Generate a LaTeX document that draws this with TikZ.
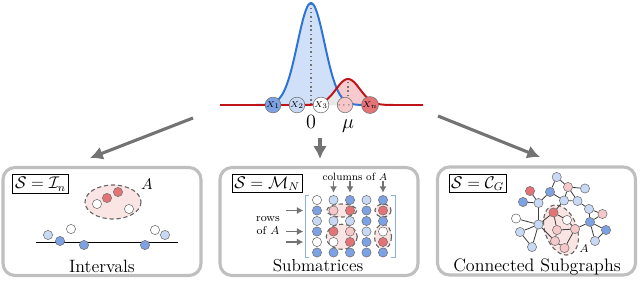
\documentclass[tikz,border=0pt]{standalone}
\usepackage{amsmath,amssymb}
\usetikzlibrary{arrows.meta}

\definecolor{cb}{RGB}{125,162,228}
\definecolor{cl}{RGB}{200,217,246}
\definecolor{cr}{RGB}{228,115,120}
\definecolor{cp}{RGB}{246,200,202}
\definecolor{cw}{RGB}{255,255,255}
\definecolor{bstroke}{RGB}{45,115,215}
\definecolor{bfill}{RGB}{207,224,248}
\definecolor{rstroke}{RGB}{190,20,25}
\definecolor{rfill}{RGB}{247,203,205}
\definecolor{afill}{RGB}{251,228,228}
\definecolor{brk}{RGB}{140,175,230}

\tikzset{
  panel/.style={draw=black!25, line width=2.2pt, rounded corners=3mm,
    minimum width=49.5mm, minimum height=27mm},
  setlabel/.style={draw, line width=0.5pt, inner sep=1.6pt, fill=white,
    font=\fontsize{12}{14}\selectfont},
  boxtitle/.style={font=\fontsize{12.7}{15}\selectfont},
  ball/.style={circle, draw=black!55, line width=0.4pt, inner sep=0pt, minimum size=2.3mm},
  xball/.style={ball, minimum size=3.5mm, font=\fontsize{6}{6}\selectfont},
  bigarrow/.style={-{Latex[length=3.2mm,width=3.4mm]}, line width=2.2pt, black!55},
  smallarrow/.style={-{Latex[length=1.6mm,width=1.8mm]}, line width=1.1pt, black!55},
  aset/.style={dash pattern=on 3pt off 2pt, draw=black!60, line width=0.8pt, fill=afill},
  bline/.style={line width=1.4pt, bstroke},
  rline/.style={line width=1.4pt, rstroke},
  link/.style={black!75, line width=0.6pt}
}

\begin{document}
\begin{tikzpicture}[x=0.25mm, y=-0.25mm,
  declare function={gb(\t)=105-102*exp(-0.5*(\t-311)*(\t-311)/182.25);
                    gr(\t)=105-26*exp(-0.5*(\t-348)*(\t-348)/144);}]
\useasboundingbox (0,0) rectangle (640,298);

% the two densities
\fill[bfill] (255,105) -- plot[domain=255:368, samples=90, smooth] (\x,{gb(\x)}) -- cycle;
\fill[rfill] (300,105) -- plot[domain=300:400, samples=90, smooth] (\x,{gr(\x)}) -- cycle;
\begin{scope}
  \clip (300,105) -- plot[domain=300:400, samples=90, smooth] (\x,{gr(\x)}) -- cycle;
  \fill[gray!18] (255,105) -- plot[domain=255:368, samples=90, smooth] (\x,{gb(\x)}) -- cycle;
\end{scope}
\draw[black!55, line width=1.1pt, dotted] (311,105) -- (311,3);
\draw[black!55, line width=1.1pt, dotted] (348,105) -- (348,79);
\draw[bline] plot[domain=255:368, samples=90, smooth] (\x,{gb(\x)});
\draw[rline] (220,105) -- (300,105) -- plot[domain=300:400, samples=90, smooth] (\x,{gr(\x)}) -- (423,105);

\foreach \n/\x/\c/\t in {x1/273/cb/X_1, x2/297/cl/X_2, x3/321/cw/X_3, xd/345/cp/\cdots, xn/370/cr/X_n}
  \node[xball, fill=\c] (\n) at (\x,105) {$\t$};
\node[anchor=base, inner sep=0pt, font=\fontsize{15}{15}\selectfont] (zero) at (311,128) {$0$};
\node[anchor=base, inner sep=0pt, font=\fontsize{15}{15}\selectfont] (mu) at (348,128) {$\mu$};

% the three panels
\node[panel] (pI) at (102,221.5) {};
\node[panel] (pM) at (319,221.5) {};
\node[panel] (pC) at (536.5,221) {};
\node[setlabel] (sI) at (40.5,184) {$\mathcal{S}=\mathcal{I}_n$};
\node[setlabel] (sM) at (267,183.5) {$\mathcal{S}=\mathcal{M}_N$};
\node[setlabel] (sC) at (477.5,183.5) {$\mathcal{S}=\mathcal{C}_G$};

\coordinate (aL0) at (193,118); \coordinate (aL1) at (90,158);
\coordinate (aM0) at (320,138); \coordinate (aM1) at (320,159);
\coordinate (aR0) at (438,116); \coordinate (aR1) at (540,157);
\draw[bigarrow] (aL0) -- (aL1);
\draw[bigarrow] (aM0) -- (aM1);
\draw[bigarrow] (aR0) -- (aR1);

% intervals
\draw[aset] (113,202) ellipse (28 and 17);
\node[font=\fontsize{11}{13}\selectfont] (aI) at (147,184) {$A$};
\foreach \n/\x/\y/\c in {a1/97/204/cw, a2/107/198/cr, a3/118/192/cr, a4/129/209/cw}
  \node[ball, fill=\c] (\n) at (\x,\y) {};
\coordinate (l0) at (36,242); \coordinate (l1) at (178,242);
\draw[line width=0.7pt] (l0) -- (l1);
\foreach \n/\x/\y/\c in {i1/48/235/cl, i2/60/241/cb, i3/71/229/cw, i4/84/245/cb,
                         i5/145/245/cb, i6/155/230/cw, i7/165/235/cl}
  \node[ball, fill=\c] (\n) at (\x,\y) {};
\node[boxtitle] (tI) at (102,266) {Intervals};

% submatrices
\draw[aset] (341.75,210.5) ellipse (15 and 6.5);
\draw[aset] (383,210.5) ellipse (8 and 6.5);
\draw[aset] (341.75,236.75) ellipse (15.5 and 12.5);
\draw[aset] (383,236.75) ellipse (8.5 and 12.5);
\foreach \i/\cs in {1/{cw,cl,cb,cl,cb}, 2/{cb,cp,cr,cb,cr}, 3/{cl,cl,cl,cb,cb},
                    4/{cb,cr,cp,cl,cw}, 5/{cw,cw,cr,cb,cr}, 6/{cb,cb,cb,cb,cb}}
  \foreach \c [count=\j] in \cs
    \node[ball, fill=\c] (m-\i-\j) at ({317+(\j-1)*16.5},{200+(\i-1)*10.5}) {};
\draw[brk, line width=0.7pt] (309,195) -- (305,195) -- (305,257) -- (309,257);
\draw[brk, line width=0.7pt] (391,195) -- (395,195) -- (395,257) -- (391,257);
\node[font=\fontsize{7.5}{9}\selectfont] (colA) at (355,177) {columns of $A$};
\foreach \j in {2,3,5}
  \draw[smallarrow] ([yshift=3.6mm]m-1-\j.north) -- ([yshift=0.6mm]m-1-\j.north);
\node[align=center, font=\fontsize{8}{9.5}\selectfont] (rowA) at (268,225.5) {rows\\of $A$};
\foreach \i in {2,4,5}
  \draw[smallarrow] ([xshift=-6.5mm]m-\i-1.west) -- ([xshift=-2.2mm]m-\i-1.west);
\node[boxtitle, font=\fontsize{12.3}{15}\selectfont] (tM) at (318,266) {Submatrices};

% connected subgraphs
\draw[aset, rotate around={20:(561,230)}] (561,230) ellipse (16 and 26);
\node[inner sep=0.5pt, font=\fontsize{8}{9}\selectfont] (aC) at (584,249) {$A$};
\foreach \n/\x/\y/\c in {g1/556.7/177/cl, g2/568/187/cp, g3/585/188.5/cl, g4/530/191/cr,
    g5/550/192/cb, g6/523/202/cb, g7/538.5/203/cl, g8/564/200.5/cl, g9/577.5/201/cl,
    g10/589/209/cl, g11/602.5/214/cp, g12/553.5/212.5/cr, g13/516/218.5/cw,
    g14/567/220/cw, g15/538.5/224.5/cl, g16/590/222/cb, g17/606/230/cb,
    g18/595/241/cl, g19/520/232/cl, g20/532/247/cl, g21/557/230/cp,
    g22/575/229/cp, g23/555/241/cp, g24/564.5/248/cp}
  \node[ball, fill=\c] (\n) at (\x,\y) {};
\foreach \a/\b in {g1/g5, g1/g2, g2/g3, g2/g8, g2/g9, g8/g9, g5/g8, g5/g7, g4/g7,
    g6/g7, g7/g15, g13/g15, g15/g19, g19/g20, g20/g15, g15/g12, g12/g8, g12/g14,
    g12/g21, g14/g22, g21/g22, g21/g23, g23/g24, g22/g24, g22/g16, g9/g10,
    g10/g11, g10/g16, g11/g16, g16/g17, g16/g18, g17/g18, g15/g23}
  \draw[link] (\a) -- (\b);
\node[boxtitle, font=\fontsize{12.8}{15}\selectfont] (tC) at (537,267) {Connected Subgraphs};
\end{tikzpicture}
\end{document}
